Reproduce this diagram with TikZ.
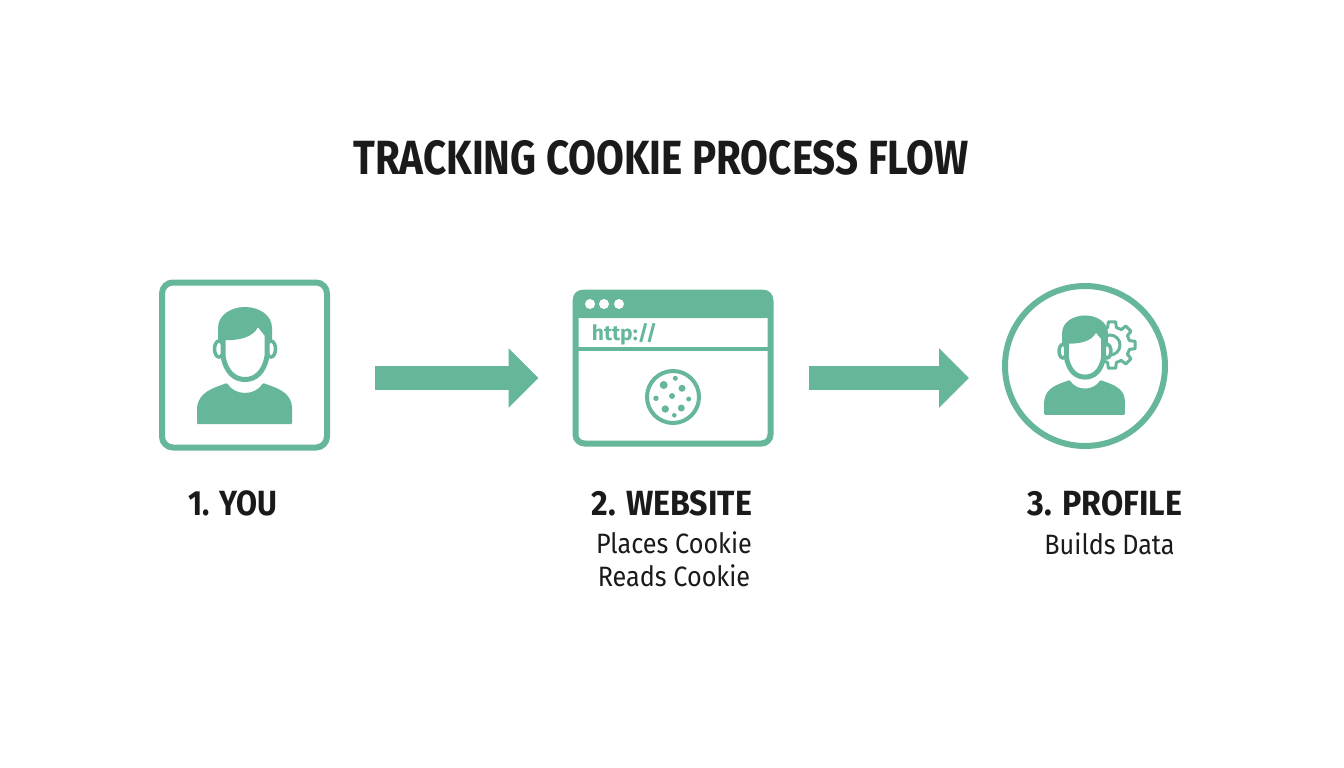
\documentclass[tikz,border=0pt]{standalone}
\usepackage{fontspec}
\setmainfont{Fira Sans}
\usetikzlibrary{positioning, arrows.meta}
\definecolor{mint}{HTML}{66B79A}
\definecolor{inkblack}{HTML}{1A1A1A}
\newcommand{\stepfont}{\fontsize{35}{35}\selectfont\bfseries\addfontfeature{FakeStretch=0.92}}
\tikzset{
  framebox/.style={draw=mint, line width=6pt, fill=white, inner sep=0pt},
  flow/.style={draw=mint, line width=24pt, -{Triangle[length=30pt, width=58pt, fill=mint]}},
  steplabel/.style={text=inkblack, font=\stepfont, inner sep=0pt},
  sublabel/.style={text=inkblack, font=\fontsize{28}{33}\selectfont\addfontfeature{FakeStretch=0.9}, align=center, inner sep=0pt},
  person/.pic={
    % ears, then face, then hair and shoulders
    \draw[mint, line width=3.5pt, fill=white] (-26,-1) ellipse (4.5 and 8);
    \draw[mint, line width=3.5pt, fill=white] (26,-1) ellipse (4.5 and 8);
    \draw[mint, line width=5pt, fill=white] (-22,-25) -- (-22,6) .. controls (-19,23) and (-10,29.5) .. (0,29.5)
      .. controls (10,29.5) and (19,23) .. (22,6) -- (22,-25) -- cycle;
    \fill[mint] (-27,-10) -- (-23,-10) .. controls (-8,-9) and (8,-12) .. (13,-23)
      .. controls (16,-18) and (20,-15) .. (23,-10) -- (27,-10) -- (27,-22) .. controls (27,-35) and (14,-43) .. (0,-43)
      .. controls (-14,-43) and (-27,-35) .. (-27,-22) -- cycle;
    \fill[mint, rounded corners=1pt] (-48,74) -- (-48,58) .. controls (-46,42) and (-32,38) .. (-18,33)
      .. controls (-10,46) and (10,46) .. (18,33) .. controls (32,38) and (46,42) .. (47,58) -- (47,74) -- cycle;
  }
}
\begin{document}
\begin{tikzpicture}[x=1pt, y=-1pt]
   \useasboundingbox (0,0) rectangle (1344,768);

   \node[text=inkblack, font=\fontsize{48}{48}\selectfont\bfseries\addfontfeature{FakeStretch=0.84}, inner sep=0pt] (title) at (661,158) {TRACKING COOKIE PROCESS FLOW};

   % The three steps
   \node[framebox, rounded corners=11pt, minimum width=165pt, minimum height=165pt] (you) at (244.5,365) {};
   \node[framebox, rounded corners=9pt, minimum width=195pt, minimum height=151pt] (website) at (673,368) {};
   \node[framebox, circle, minimum size=160pt] (profile) at (1085,366) {};
   \coordinate (flowline) at (0,378);

   % Labels
   \node[steplabel, font=\fontsize{35}{35}\selectfont\bfseries\addfontfeature{FakeStretch=0.87}] (youlabel) [below=40pt of you, xshift=-12pt] {1. YOU};
   \node[steplabel] (websitelabel) [below=44pt of website, xshift=-1pt] {2. WEBSITE};
   \node[steplabel] (profilelabel) [below=41pt of profile, xshift=20pt] {3. PROFILE};
   \node[sublabel] (websitetext) [below=15pt of websitelabel, xshift=2pt] {Places Cookie\\Reads Cookie};
   \node[sublabel] (profiletext) [below=17pt of profilelabel, xshift=4.5pt] {Builds Data};

   % Person in the first box
   \pic at (245,350) {person};

   % Browser window
   \fill[mint, rounded corners=9pt] (573,290) -- (773,290) -- (773,318) -- (573,318) -- cycle;
   \fill[mint] (573,306) rectangle (773,318);
   \draw[mint, line width=4pt] (575,349) -- (771,349);
   \foreach \x in {590,604,619}
     \fill[white] (\x,304) circle (5);
   \node[text=mint, font=\fontsize{21}{21}\selectfont\bfseries, inner sep=0pt] (url) at (624.5,334) {http://};
   \draw[mint, line width=4pt] (673,397) circle (26);
   \foreach \x/\y/\r in {-9.3/-12/4, 2.3/-18.7/2.5, 9/-8.7/3.5, -1/-1/3, -17/1.3/2.7, 15.7/2/2.5, -7.7/12/3.7, 8.3/11/3.5, 1.3/18.3/2.3}
     \fill[mint] (673+\x,397+\y) circle (\r);

   % Gear behind the second person
   \begin{scope}[shift={(1112,345)}]
     \draw[mint, line width=3pt, fill=white, line join=round] (-14:18)
       \foreach \a in {0,45,...,315} { -- ({\a-14}:18) -- ({\a-9}:23.5) -- ({\a+9}:23.5) -- ({\a+14}:18) } -- cycle;
     \draw[mint, line width=3pt] (-2,0) circle (10);
   \end{scope}
   \pic[scale=0.85] at (1085,352) {person};

   % Arrows
   \draw[flow, shorten <=45pt, shorten >=34pt] (you.east |- flowline) -- (website.west |- flowline);
   \draw[flow, shorten <=35pt, shorten >=33pt] (website.east |- flowline) -- (profile.west |- flowline);
\end{tikzpicture}
\end{document}
